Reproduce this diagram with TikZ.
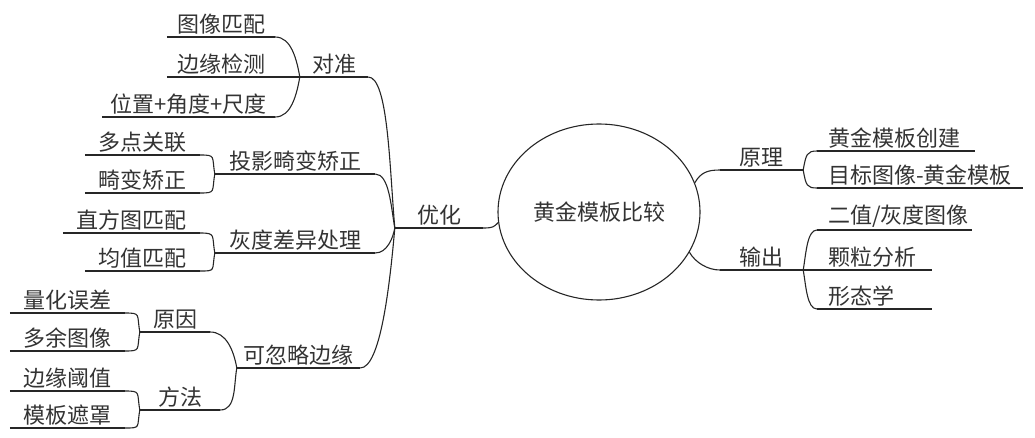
\documentclass[tikz,border=0pt]{standalone}
\usepackage{fontspec}
\setmainfont{Noto Sans CJK SC}
\usetikzlibrary{shapes.geometric}
\newcommand{\mapfont}{\fontsize{22}{25}\selectfont}

\begin{document}
\begin{tikzpicture}[
    x=1pt, y=1pt,
    topic/.style={inner xsep=0pt, inner ysep=2.2pt, text=black!80, font=\mapfont, anchor=south},
    rtopic/.style={topic, anchor=south west, inner xsep=11pt, align=left},
    hub/.style={ellipse, draw=black!85, line width=1.1pt, inner sep=0pt,
                minimum width=202pt, minimum height=176pt, text=black!80, font=\mapfont},
    bar/.style={draw=black!85, line width=1.1pt},
    fromabove/.style={out=0, in=100, out distance=16pt, in distance=18pt},
    frombelow/.style={out=0, in=-100, out distance=16pt, in distance=18pt},
    toabove/.style={out=80, in=180, out distance=16pt, in distance=10pt},
    tobelow/.style={out=-80, in=180, out distance=16pt, in distance=10pt},
]
\useasboundingbox (0,0) rectangle (1035,437);

\node[hub] (root) at (599,225) {黄金模板比较};

% left side
\node[topic, minimum width=88pt] (youhua) at (439,209) {优化};
\node[topic, minimum width=68pt] (duizhun) at (334,360) {对准};
\node[topic, minimum width=108pt] (txpp) at (221,400) {图像匹配};
\node[topic, minimum width=108pt] (byjc) at (221,360) {边缘检测};
\node[topic, minimum width=173pt] (wzjd) at (188.5,320) {位置+角度+尺度};
\node[topic, minimum width=160pt] (touying) at (295,263) {投影畸变矫正};
\node[topic, minimum width=115pt] (ddgl) at (142.5,282) {多点关联};
\node[topic, minimum width=115pt] (jbjz) at (142.5,244) {畸变矫正};
\node[topic, minimum width=160pt] (huidu) at (295,184) {灰度差异处理};
\node[topic, minimum width=137pt] (zftpp) at (131.5,204) {直方图匹配};
\node[topic, minimum width=115pt] (jzpp) at (142.5,166) {均值匹配};
\node[topic, minimum width=123pt] (hulue) at (298.5,69) {可忽略边缘};
\node[topic, minimum width=70pt] (yuanyin) at (175,105) {原因};
\node[topic, minimum width=115pt] (lhwc) at (67.5,124) {量化误差};
\node[topic, minimum width=115pt] (dytx) at (67.5,86) {多余图像};
\node[topic, minimum width=80pt] (fangfa) at (180,27) {方法};
\node[topic, minimum width=115pt] (byyz) at (67.5,46) {边缘阈值};
\node[topic, minimum width=115pt] (mbzz) at (67.5,9) {模板遮罩};

% right side
\node[topic, minimum width=83pt] (yuanli) at (761.5,267) {原理};
\node[topic, minimum width=83pt] (shuchu) at (761.5,167) {输出};
\node[rtopic, text width=136pt] (hjcj) at (817,286) {黄金模板创建};
\node[rtopic, text width=184pt] (mbtx) at (817,249) {目标图像-黄金模板};
\node[rtopic, text width=133pt] (ezhd) at (817,207) {二值/灰度图像};
\node[rtopic, text width=93pt] (klfx) at (817,167) {颗粒分析};
\node[rtopic, text width=93pt] (xtx) at (817,128) {形态学};

% underlines
\foreach \n in {youhua,duizhun,txpp,byjc,wzjd,touying,ddgl,jbjz,huidu,zftpp,jzpp,
                hulue,yuanyin,lhwc,dytx,fangfa,byyz,mbzz,yuanli,shuchu,hjcj,mbtx,ezhd,klfx,xtx}
    \draw[bar] (\n.south west) -- (\n.south east);

% branches
\draw[bar] (youhua.south east) to[out=0, in=-135, out distance=10pt, in distance=6pt] (root.186);
\draw[bar] (duizhun.south east) to[out=0, in=95, out distance=20pt, in distance=60pt] (youhua.south west);
\draw[bar] (touying.south east) to[out=0, in=100, out distance=14pt, in distance=22pt] (youhua.south west);
\draw[bar] (huidu.south east) to[out=0, in=-100, out distance=12pt, in distance=10pt] (youhua.south west);
\draw[bar] (hulue.south east) to[out=0, in=-95, out distance=20pt, in distance=60pt] (youhua.south west);

\draw[bar] (txpp.south east) to[fromabove] (duizhun.south west);
\draw[bar] (byjc.south east) -- (duizhun.south west);
\draw[bar] (wzjd.south east) to[frombelow] (duizhun.south west);
\draw[bar] (ddgl.south east) to[fromabove] (touying.south west);
\draw[bar] (jbjz.south east) to[frombelow] (touying.south west);
\draw[bar] (zftpp.south east) to[fromabove] (huidu.south west);
\draw[bar] (jzpp.south east) to[frombelow] (huidu.south west);
\draw[bar] (yuanyin.south east) to[fromabove] (hulue.south west);
\draw[bar] (fangfa.south east) to[frombelow] (hulue.south west);
\draw[bar] (lhwc.south east) to[fromabove] (yuanyin.south west);
\draw[bar] (dytx.south east) to[frombelow] (yuanyin.south west);
\draw[bar] (byyz.south east) to[fromabove] (fangfa.south west);
\draw[bar] (mbzz.south east) to[frombelow] (fangfa.south west);

\draw[bar] (root.17) to[out=60, in=180, out distance=12pt, in distance=12pt] (yuanli.south west);
\draw[bar] (root.-24) to[out=-60, in=180, out distance=12pt, in distance=12pt] (shuchu.south west);
\draw[bar] (yuanli.south east) to[toabove] (hjcj.south west);
\draw[bar] (yuanli.south east) to[tobelow] (mbtx.south west);
\draw[bar] (shuchu.south east) to[toabove] (ezhd.south west);
\draw[bar] (shuchu.south east) -- (klfx.south west);
\draw[bar] (shuchu.south east) to[tobelow] (xtx.south west);
\end{tikzpicture}
\end{document}
